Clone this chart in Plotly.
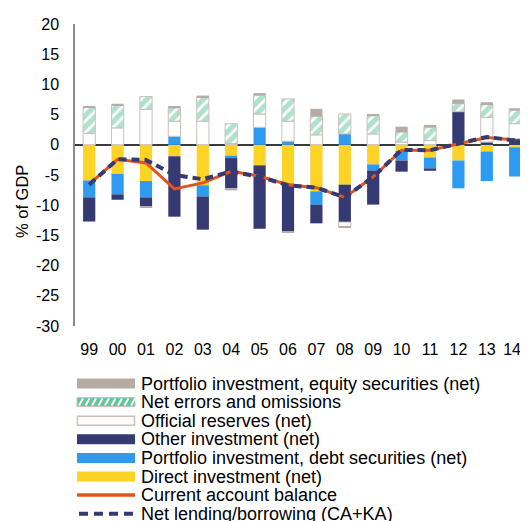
import plotly.graph_objects as go

years = ["99", "00", "01", "02", "03", "04", "05", "06", "07", "08", "09", "10", "11", "12", "13", "14*"]

direct = [-5.9, -4.8, -6.0, -1.9, -6.7, -1.8, -3.4, -6.45, -7.7, -6.6, -3.25, -1.0, -2.1, -2.6, -1.1, -0.4]
debt = [-2.8, -3.4, -2.7, 1.4, -1.85, -0.4, 2.9, 0.6, -2.2, 1.8, -1.0, -1.6, -1.8, -4.6, -4.9, -4.85]
other = [-4.0, -0.9, -1.5, -10.0, -5.5, -5.0, -10.5, -7.9, -3.1, -6.2, -5.65, -1.85, -0.4, 5.5, 0.45, 1.0]
reserves = [1.9, 2.8, 5.85, 2.5, 3.9, 0.2, 2.2, 3.3, 1.65, -0.8, 1.8, 0.45, 0.7, 0.0, 4.1, 2.5]
errors = [4.3, 3.75, 2.15, 2.2, 4.0, 3.3, 3.1, 3.7, 3.05, 3.3, 3.0, 1.65, 2.2, 1.3, 2.2, 2.2]
equity = [0.1, 0.25, -0.2, 0.2, 0.25, -0.35, 0.35, -0.2, 1.25, -0.1, 0.2, 0.9, 0.4, 0.7, 0.3, 0.35]
current_account = [-6.5, -2.4, -3.0, -7.3, -6.3, -4.4, -5.2, -6.6, -7.1, -8.7, -5.3, -0.9, -0.9, 0.2, 1.2, 0.8]
net_lending = [-6.6, -2.4, -2.5, -5.0, -5.7, -4.4, -5.3, -6.7, -7.1, -8.7, -5.3, -0.85, -0.9, 0.2, 1.3, 0.7]

y_tick_values = [-30, -25, -20, -15, -10, -5, 0, 5, 10, 15, 20]
y_tick_labels = ["-30", "-25", "-20", "-15", "-10", "-5", "0", "5", "10", "15", "20"]
y_title = "% of GDP"

legend_labels = [
    "Portfolio investment, equity securities (net)",
    "Net errors and omissions",
    "Official reserves (net)",
    "Other investment (net)",
    "Portfolio investment, debt securities (net)",
    "Direct investment (net)",
    "Current account balance",
    "Net lending/borrowing (CA+KA)",
]

C_EQ = "#b7aba5"
C_ERR = "#5fc69e"
C_RES_LINE = "#cbbfb9"
C_OTHER = "#353a72"
C_DEBT = "#2f9bf0"
C_DIRECT = "#fdd426"
C_CA = "#e4531d"
C_NL = "#353a72"

FONT = "Liberation Sans, Arial, sans-serif"

fig = go.Figure()
BW = 0.43
fig.add_trace(go.Bar(x=years, y=direct, width=BW, marker=dict(color=C_DIRECT, line=dict(width=0)), name=legend_labels[5]))
fig.add_trace(go.Bar(x=years, y=debt, width=BW, marker=dict(color=C_DEBT, line=dict(width=0)), name=legend_labels[4]))
fig.add_trace(go.Bar(x=years, y=other, width=BW, marker=dict(color=C_OTHER, line=dict(width=0)), name=legend_labels[3]))
fig.add_trace(go.Bar(x=years, y=reserves, width=BW, marker=dict(color="white", line=dict(width=1, color=C_RES_LINE)), name=legend_labels[2]))
fig.add_trace(go.Bar(x=years, y=errors, width=BW,
                     marker=dict(color="white", line=dict(width=1, color=C_RES_LINE),
                                 pattern=dict(shape="/", fgcolor=C_ERR, bgcolor="white", size=8, solidity=0.65)),
                     name=legend_labels[1]))
fig.add_trace(go.Bar(x=years, y=equity, width=BW, marker=dict(color=C_EQ, line=dict(width=0)), name=legend_labels[0]))
fig.add_trace(go.Scatter(x=years, y=current_account, mode="lines", line=dict(color=C_CA, width=3), name=legend_labels[6]))
fig.add_trace(go.Scatter(x=years, y=net_lending, mode="lines", line=dict(color=C_NL, width=4, dash="8px,5px"), name=legend_labels[7]))

# page offset (body margin) and layout geometry in figure pixels
OFF = 8
W, H = 528, 521
ML, MR, MT = 75 - OFF, 0, 24 - OFF
MB = H - (326 - OFF)
PW = W - ML - MR
PH = H - MT - MB
SPACING = 28.4
x_hi = -0.5 + PW / SPACING


def px(x_page):
    return (x_page - OFF - ML) / PW


def py(y_page):
    return (H - MB - (y_page - OFF)) / PH


shapes = []
annotations = []
row0, step = 383.5, 18.6
sx0, sx1 = 77, 135
for i, lab in enumerate(legend_labels):
    cy = row0 + i * step
    if i == 0:
        shapes.append(dict(type="rect", xref="paper", yref="paper", x0=px(sx0), x1=px(sx1), y0=py(cy + 5), y1=py(cy - 5),
                           fillcolor=C_EQ, line=dict(width=0)))
    elif i == 1:
        shapes.append(dict(type="rect", xref="paper", yref="paper", x0=px(sx0), x1=px(sx1), y0=py(cy + 4.5), y1=py(cy - 4.5),
                           fillcolor=C_ERR, line=dict(width=1, color=C_RES_LINE)))
        path = ""
        xx = sx0 + 2
        while xx + 4 <= sx1:
            path += f"M{px(xx)},{py(cy + 3.5)} L{px(xx + 4)},{py(cy - 3.5)} "
            xx += 6.5
        shapes.append(dict(type="path", xref="paper", yref="paper", path=path, line=dict(color="white", width=2)))
    elif i == 2:
        shapes.append(dict(type="rect", xref="paper", yref="paper", x0=px(sx0 + 0.5), x1=px(sx1 - 0.5), y0=py(cy + 4.5), y1=py(cy - 4.5),
                           fillcolor="white", line=dict(width=1.5, color=C_RES_LINE)))
    elif i in (3, 4, 5):
        col = [C_OTHER, C_DEBT, C_DIRECT][i - 3]
        shapes.append(dict(type="rect", xref="paper", yref="paper", x0=px(sx0), x1=px(sx1), y0=py(cy + 5), y1=py(cy - 5),
                           fillcolor=col, line=dict(width=0)))
    elif i == 6:
        shapes.append(dict(type="line", xref="paper", yref="paper", x0=px(sx0), x1=px(sx1), y0=py(cy), y1=py(cy),
                           line=dict(color=C_CA, width=3.5)))
    else:
        shapes.append(dict(type="line", xref="paper", yref="paper", x0=px(sx0 + 2), x1=px(sx1), y0=py(cy), y1=py(cy),
                           line=dict(color=C_NL, width=4, dash="9px,6px")))
    annotations.append(dict(text=lab, xref="paper", yref="paper", x=px(139.5), y=py(cy), xanchor="left", yanchor="middle",
                            showarrow=False, borderpad=0, font=dict(family=FONT, size=18, color="#000000")))

# y-axis title (placed like the reference, below the plot's vertical centre)
annotations.append(dict(text=y_title, xref="paper", yref="paper", x=px(22), y=py(202), xanchor="center", yanchor="middle",
                        textangle=-90, showarrow=False, borderpad=0, font=dict(family=FONT, size=16.5, color="#000000")))

fig.update_layout(
    width=W, height=H,
    margin=dict(l=ML, r=MR, t=MT, b=MB, pad=0),
    paper_bgcolor="white", plot_bgcolor="white",
    barmode="relative", showlegend=False,
    font=dict(family=FONT, color="#000000"),
    shapes=shapes, annotations=annotations,
    xaxis=dict(type="category", range=[-0.5, x_hi], showline=False, showgrid=False, zeroline=False,
               ticks="", tickfont=dict(size=16, family=FONT, color="#000000"), ticklabelstandoff=12,
               ticklabeloverflow="allow", fixedrange=True),
    yaxis=dict(range=[-30, 20], tickvals=y_tick_values, ticktext=y_tick_labels, showgrid=False,
               showline=True, linecolor="#8c8c8c", linewidth=1.5,
               zeroline=True, zerolinecolor="#3a3a3a", zerolinewidth=1.5,
               ticks="", tickfont=dict(size=16, family=FONT, color="#000000"), ticklabelstandoff=11,
               automargin=False, fixedrange=True),
)

fig.write_html("out.html")
